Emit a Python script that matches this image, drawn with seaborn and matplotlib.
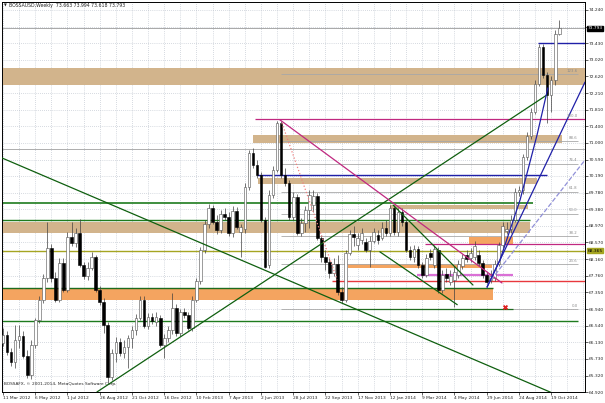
import matplotlib
matplotlib.use('Agg')
import matplotlib.pyplot as plt
import seaborn as sns
import pandas as pd
import numpy as np

sns.set_style('white')
plt.rcParams['font.family'] = ['DejaVu Sans']

title = 'BOSSAUSD,Weekly  73.663 73.994 73.618 73.793'
copyright_txt = 'BOSSAFX, \u00a9 2001-2014, MetaQuotes Software Corp.'

# weekly candles (11 Mar 2012 .. 2 Nov 2014)
opens = [66.12, 66.31, 65.90, 65.66, 66.19, 66.29, 65.80, 65.34, 66.07, 66.68,
         67.17, 67.70, 68.44, 67.70, 67.17, 68.07, 67.41, 68.70, 68.56, 68.80,
         68.02, 67.75, 67.95, 68.22, 67.41, 67.12, 66.56, 65.29, 65.87, 66.14,
         65.87, 66.02, 66.24, 66.44, 66.73, 67.17, 66.53, 66.75, 66.63, 66.73,
         66.07, 66.24, 66.44, 66.97, 66.36, 66.88, 66.80, 66.49, 67.17, 67.63,
         68.39, 69.02, 69.41, 69.07, 68.88, 69.27, 69.19, 68.80, 69.34, 68.83,
         68.90, 69.92, 70.75, 70.46, 70.22, 69.12, 68.02, 69.73, 70.34, 71.48,
         70.22, 70.02, 69.19, 69.68, 68.80, 69.05, 69.36, 69.48, 69.70, 68.68,
         68.22, 68.09, 67.83, 68.05, 67.36, 67.17, 68.31, 68.78, 68.51, 68.63,
         68.58, 68.39, 68.61, 68.75, 68.68, 68.92, 68.80, 69.41, 68.83, 69.31,
         69.07, 68.39, 68.22, 68.41, 68.02, 67.78, 68.31, 68.02, 68.39, 67.41,
         67.80, 67.61, 67.66, 67.78, 68.00, 68.26, 68.19, 68.22, 68.26, 68.07,
         67.78, 67.66, 67.70, 68.05, 68.51, 68.85, 68.90, 69.12, 69.80, 69.85,
         70.66, 71.17, 71.75, 72.44, 73.34, 72.66, 72.17, 72.53, 73.663]
highs = [66.49, 66.41, 66.00, 66.56, 66.56, 66.41, 65.95, 66.19, 66.73, 67.26,
         67.80, 69.07, 68.53, 67.85, 68.19, 68.19, 68.83, 69.07, 68.92, 69.14,
         68.09, 68.09, 68.34, 68.26, 67.51, 67.22, 66.63, 65.97, 66.27, 66.24,
         66.19, 66.31, 66.53, 66.83, 67.26, 67.26, 66.85, 66.85, 66.88, 66.80,
         66.34, 66.53, 67.34, 67.07, 66.95, 66.97, 66.88, 67.26, 67.70, 68.46,
         69.12, 69.51, 69.48, 69.24, 69.36, 69.41, 69.31, 69.46, 69.44, 69.02,
         70.02, 70.83, 70.87, 70.58, 70.29, 69.19, 69.85, 70.44, 71.53, 71.53,
         70.39, 70.09, 69.80, 69.75, 69.17, 69.46, 69.85, 69.85, 69.78, 68.75,
         68.39, 68.19, 68.19, 68.26, 67.48, 68.39, 68.88, 68.97, 68.80, 68.92,
         68.68, 68.73, 68.92, 68.88, 69.07, 69.12, 69.48, 69.48, 69.41, 69.41,
         69.14, 68.49, 68.51, 68.49, 68.09, 68.29, 68.41, 68.51, 68.46, 67.90,
         67.95, 67.90, 68.00, 68.14, 68.29, 68.39, 68.44, 68.61, 68.39, 68.14,
         67.85, 67.90, 68.14, 68.58, 69.07, 69.07, 69.24, 69.90, 69.95, 70.73,
         71.26, 71.85, 72.53, 73.41, 73.41, 72.73, 72.63, 73.75, 73.994]
lows = [66.05, 65.83, 65.56, 65.51, 66.00, 65.75, 65.27, 65.24, 66.00, 66.61,
        67.09, 67.61, 67.61, 67.12, 67.12, 67.36, 67.36, 68.48, 68.46, 67.97,
        67.68, 67.66, 67.90, 67.36, 67.05, 66.36, 65.14, 65.22, 65.66, 65.80,
        65.75, 65.51, 66.00, 66.31, 66.68, 66.49, 66.46, 66.58, 66.53, 66.02,
        65.75, 66.14, 66.34, 66.29, 66.29, 66.73, 66.44, 66.41, 67.12, 67.56,
        68.31, 68.92, 69.02, 68.78, 68.80, 69.12, 68.73, 68.70, 68.90, 68.22,
        68.80, 69.85, 70.39, 70.14, 69.07, 67.95, 67.95, 69.66, 70.29, 70.14,
        69.95, 69.12, 69.12, 68.75, 68.73, 68.83, 68.92, 69.31, 68.63, 68.09,
        67.90, 67.70, 67.75, 67.29, 67.09, 67.12, 68.26, 68.48, 68.39, 68.53,
        68.34, 67.97, 68.56, 68.53, 68.63, 68.73, 68.73, 68.75, 68.73, 68.97,
        68.34, 68.14, 68.09, 67.95, 67.70, 67.73, 68.14, 67.95, 67.34, 67.34,
        67.61, 67.53, 67.00, 67.70, 67.92, 68.09, 68.09, 68.14, 68.00, 67.70,
        67.48, 67.58, 67.63, 68.00, 68.44, 68.78, 68.80, 69.07, 69.70, 69.75,
        70.58, 71.09, 71.70, 72.39, 72.58, 71.48, 71.75, 72.41, 73.618]
closes = [66.31, 65.90, 65.66, 66.19, 66.29, 65.80, 65.34, 66.07, 66.68, 67.17,
          67.70, 68.44, 67.70, 67.17, 68.07, 67.41, 68.70, 68.56, 68.80, 68.02,
          67.75, 67.95, 68.22, 67.41, 67.12, 66.56, 65.29, 65.87, 66.14, 65.87,
          66.02, 66.24, 66.44, 66.73, 67.17, 66.53, 66.75, 66.66, 66.75, 66.07,
          66.24, 66.44, 66.97, 66.36, 66.88, 66.80, 66.49, 67.17, 67.63, 68.39,
          69.02, 69.41, 69.07, 68.88, 69.27, 69.19, 68.80, 69.34, 68.95, 68.95,
          69.92, 70.75, 70.46, 70.22, 69.12, 67.97, 69.73, 70.34, 71.48, 70.22,
          70.02, 69.19, 69.68, 68.80, 69.05, 69.36, 69.73, 69.70, 68.68, 68.22,
          68.09, 67.83, 68.05, 67.36, 67.17, 68.31, 68.78, 68.70, 68.68, 68.80,
          68.39, 68.61, 68.83, 68.63, 68.92, 68.80, 69.41, 68.83, 69.31, 69.07,
          68.39, 68.22, 68.41, 68.02, 67.78, 68.19, 68.22, 68.41, 67.41, 67.78,
          67.70, 67.75, 67.85, 68.05, 68.19, 68.17, 68.31, 68.48, 68.07, 67.78,
          67.61, 67.75, 68.05, 68.51, 68.97, 68.90, 69.12, 69.80, 69.85, 70.66,
          71.17, 71.75, 72.44, 73.34, 72.66, 72.17, 72.53, 73.65, 73.793]

date_labels = ['11 Mar 2012', '6 May 2012', '1 Jul 2012', '26 Aug 2012', '21 Oct 2012',
               '16 Dec 2012', '10 Feb 2013', '7 Apr 2013', '2 Jun 2013', '28 Jul 2013',
               '22 Sep 2013', '17 Nov 2013', '12 Jan 2014', '9 Mar 2014', '4 May 2014',
               '29 Jun 2014', '24 Aug 2014', '19 Oct 2014']
price_labels = ['74.240', '73.830', '73.430', '73.020', '72.620', '72.210', '71.810',
                '71.400', '71.000', '70.590', '70.190', '69.780', '69.380', '68.970',
                '68.570', '68.160', '67.760', '67.350', '66.940', '66.540', '66.130',
                '65.730', '65.320', '64.920']
bid = 73.793
level_line = 68.365

# zones drawn on the chart: (low, high, first bar, last bar)
tan_zones = [(72.41, 72.83, -1, 146), (71.00, 71.19, 62.0, 138.7), (70.00, 70.14, 63.3, 132.5),
             (69.39, 69.48, 96.0, 130.3), (68.80, 69.07, -1, 130.8)]
orange_zones = [(67.17, 67.44, -1, 121.6), (68.51, 68.70, 115.6, 126.6), (67.95, 68.05, 85.6, 121.3)]

# horizontal lines: (price, first bar, last bar, colour, width)
hlines = [(69.53, -1, 131.5, '#1e7b1e', 1.2), (69.12, -1, 130.8, '#1e7b1e', 1.0),
          (67.46, -1, 121.6, '#1e6b1e', 1.0), (66.66, -1, 142.7, '#1e7b1e', 1.0),
          (66.95, 83.6, 126.6, '#1e6b1e', 0.9), (68.36, -1, 146, '#a5a522', 1.0),
          (70.22, 63.0, 135.0, '#2020a8', 1.0), (73.43, 132.8, 146, '#2020a8', 1.0),
          (71.58, 62.5, 146, '#c02880', 0.9), (68.53, 104.7, 146, '#c02880', 0.9),
          (67.78, 102.7, 126.6, '#da70d6', 1.6), (67.63, 81.6, 146, '#e8383d', 1.0),
          (70.85, -1, 146, '#a0a0a0', 0.6), (bid, -1, 146, '#a8a8a8', 0.7)]

fib_levels = [66.95, 68.04, 68.72, 69.27, 69.81, 70.49, 71.05, 71.58, 72.67]
fib_names = ['0.0', '23.6', '38.2', '50.0', '61.8', '76.4', '88.6', '100.0', '123.6']

# trend lines: ((bar, price), (bar, price)), colour, style
trends = [([23.3, 135.0], [64.92, 72.17], '#0f5f0f', '-'),
          ([-0.74, 136.2], [70.65, 64.90], '#0f5f0f', '-'),
          ([68.7, 123.8], [71.56, 67.58], '#c02880', '-'),
          ([69.2, 82.9], [71.48, 67.66], '#f08080', ':'),
          ([96.8, 116.6], [69.48, 67.53], '#0f5f0f', '-'),
          ([93.5, 112.7], [68.34, 67.05], '#0f5f0f', '-'),
          ([120.1, 144.4], [67.48, 72.48], '#2020a8', '-'),
          ([120.1, 144.4], [67.53, 70.58], '#9090d8', '--')]
arc_bars = [120.1, 123.3, 128.3, 132.5, 135.2]
arc_prices = [67.48, 68.14, 69.61, 71.19, 72.34]
cross_bar, cross_price = 124.6, 66.99

df = pd.DataFrame({'open': opens, 'high': highs, 'low': lows, 'close': closes})
df['bar'] = np.arange(len(df))
up = df[df.close >= df.open]
down = df[df.close < df.open]

fig = plt.figure(figsize=(6.05, 4.03), dpi=100)
ax = fig.add_axes([2 / 605, 11 / 403, 583 / 605, 390 / 403])
ax.set_xlim(-0.25, 144.4)
ax.set_ylim(64.923, 74.435)

price_vals = [float(p) for p in price_labels]
for p in price_vals:
    ax.axhline(p, color='#b0b8c4', lw=0.5, ls=(0, (1, 2)), zorder=0)
for b in range(0, 145, 4):
    ax.axvline(b, color='#b0b8c4', lw=0.5, ls=(0, (1, 2)), zorder=0)

for lo, hi, b0, b1 in tan_zones:
    ax.fill_between([b0, b1], lo, hi, color='#d2b48c', lw=0, zorder=1)
for lo, hi, b0, b1 in orange_zones:
    ax.fill_between([b0, b1], lo, hi, color='#f4a460', lw=0, zorder=1)

for lv, nm in zip(fib_levels, fib_names):
    ax.hlines(lv, 69, 142.7, color='#a8a8a8', lw=0.6, zorder=1.5)
    ax.text(142.6, lv + 0.03, nm, ha='right', va='bottom', fontsize=2.8, color='#8c8c8c', zorder=5)

for p, b0, b1, c, w in hlines:
    ax.hlines(p, b0, b1, color=c, lw=w, zorder=2)

# candles
ax.vlines(df.bar, df.low, df.high, color='#404040', lw=0.5, zorder=3)
ax.bar(up.bar, up.close - up.open, bottom=up.open, width=0.66, color='white',
       edgecolor='#505050', lw=0.4, zorder=3.2)
ax.bar(down.bar, down.open - down.close, bottom=down.close, width=0.66, color='black',
       edgecolor='black', lw=0.4, zorder=3.2)

for xs, ys, c, ls in trends:
    ax.plot(xs, ys, color=c, lw=0.9, ls=ls, zorder=4)
sns.lineplot(x=arc_bars, y=arc_prices, color='#2020a8', lw=0.9, ax=ax, zorder=4)
sns.scatterplot(x=[cross_bar], y=[cross_price], marker='X', color='#e02020', s=14,
                linewidth=0, ax=ax, zorder=5)

for s in ax.spines.values():
    s.set_color('black')
    s.set_linewidth(0.7)

ax.set_xticks(range(0, 8 * len(date_labels), 8))
ax.set_xticklabels(date_labels)
for lbl in ax.get_xticklabels():
    lbl.set_ha('left')
ax.tick_params(axis='x', bottom=True, length=2, width=0.5, pad=1, labelsize=3.2)

ax.yaxis.tick_right()
ax.set_yticks(price_vals)
ax.set_yticklabels(['' if p == '73.830' else p for p in price_labels])
ax.tick_params(axis='y', right=True, length=2, width=0.5, pad=1, labelsize=3.2)
ax.set_xlabel('')
ax.set_ylabel('')

ax.text(1.004, bid, f'{bid:.3f}', transform=ax.get_yaxis_transform(), fontsize=3.2,
        color='white', va='center', ha='left',
        bbox=dict(boxstyle='square,pad=0.15', fc='black', ec='black'))
ax.text(1.004, level_line, f'{level_line:.3f}', transform=ax.get_yaxis_transform(), fontsize=3.2,
        color='black', va='center', ha='left',
        bbox=dict(boxstyle='square,pad=0.15', fc='#a5a522', ec='#a5a522'))

ax.text(0.003, 0.992, '\u25bc', transform=ax.transAxes, fontsize=2.6, va='center', ha='left')
ax.text(0.012, 0.992, title, transform=ax.transAxes, fontsize=3.3, va='center', ha='left')
ax.text(0.003, 0.02, copyright_txt, transform=ax.transAxes, fontsize=3.1, va='center', ha='left')

fig.savefig('out.png', dpi=100, facecolor='white')
